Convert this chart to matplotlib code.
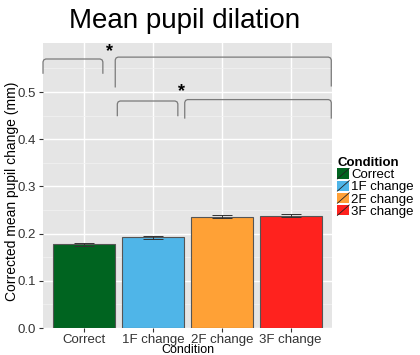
import matplotlib.pyplot as plt
from matplotlib.patches import Rectangle, Patch
from matplotlib.lines import Line2D
from matplotlib.legend_handler import HandlerPatch

plt.rcParams['font.family'] = ['Liberation Sans', 'DejaVu Sans']

# bar data
conditions = ['Correct', '1F change', '2F change', '3F change']
means = [0.177, 0.192, 0.236, 0.238]
errors = [0.004, 0.004, 0.003, 0.003]
colors = ['#006420', '#4FB5E8', '#FFA136', '#FF221E']

# significance brackets: (x start, x end, top, left leg end, right leg end)
brackets = [
    (0.40, 1.27, 0.570, 0.540, 0.540),
    (1.45, 4.59, 0.574, 0.511, 0.513),
    (1.48, 2.36, 0.481, 0.450, 0.450),
    (2.46, 4.59, 0.484, 0.445, 0.445),
]
stars = [(1.36, 0.585), (2.42, 0.500)]


class SlashHandler(HandlerPatch):
    # legend key with the diagonal slash ggplot draws for outlined bars
    def create_artists(self, legend, orig_handle, xdescent, ydescent,
                       width, height, fontsize, trans):
        r = Rectangle((-xdescent, -ydescent), width, height,
                      facecolor=orig_handle.get_facecolor(),
                      edgecolor='none', transform=trans)
        ln = Line2D([-xdescent, -xdescent + width],
                    [-ydescent, -ydescent + height],
                    color='#222222', lw=0.6, transform=trans)
        return [r, ln]


def bracket_path(x0, x1, top, l_end, r_end, rx=0.04, ry=0.006):
    # bracket outline with slightly rounded corners
    xs = [x0, x0, x0 + rx * 0.3, x0 + rx, x1 - rx, x1 - rx * 0.3, x1, x1]
    ys = [l_end, top - ry, top - ry * 0.3, top, top, top - ry * 0.3,
          top - ry, r_end]
    return xs, ys


fig = plt.figure(figsize=(4.2, 3.55), dpi=100)
ax = fig.add_axes([0.1024, 0.076, 0.688, 0.803])
ax.set_facecolor('#E5E5E5')

xs = range(1, len(conditions) + 1)
ax.bar(xs, means, width=0.9, color=colors, edgecolor='#555555', linewidth=0.8,
       zorder=3)
ax.errorbar(xs, means, yerr=errors, fmt='none', ecolor='#333333',
            elinewidth=0.7, capsize=7, capthick=0.7, zorder=4)

for b in brackets:
    bx, by = bracket_path(*b)
    ax.plot(bx, by, color='#7A7A7A', lw=0.9, zorder=5, clip_on=False)
for sx, sy in stars:
    ax.text(sx, sy, '*', ha='center', va='center', fontsize=13,
            fontweight='bold', zorder=6)

ax.set_xlim(0.4, 4.6)
ax.set_ylim(0, 0.604)
ax.set_xticks(list(xs))
ax.set_xticklabels(conditions)
ax.set_yticks([0.0, 0.1, 0.2, 0.3, 0.4, 0.5])
ax.set_yticks([0.05, 0.15, 0.25, 0.35, 0.45, 0.55], minor=True)
ax.grid(True, which='major', color='white', lw=1.0, zorder=0)
ax.grid(True, which='minor', axis='y', color='#F2F2F2', lw=0.5, zorder=0)
ax.set_axisbelow(True)
for s in ax.spines.values():
    s.set_visible(False)
ax.tick_params(axis='both', which='major', length=3, color='#333333',
               labelsize=9.5, labelcolor='#333333', pad=2)
ax.tick_params(axis='x', pad=1)
ax.tick_params(axis='both', which='minor', length=0)

ax.set_ylabel('Corrected mean pupil change (mm)', fontsize=10)
ax.yaxis.set_label_coords(-0.082, 0.48)
ax.set_xlabel('Condition', fontsize=9)
ax.xaxis.set_label_coords(0.5, -0.056)
fig.text(0.44, 0.942, 'Mean pupil dilation', ha='center', va='center',
         fontsize=20)

handles = [Patch(facecolor=c) for c in colors]
leg = fig.legend(handles, conditions, title='Condition',
                 handler_map={Patch: SlashHandler()},
                 loc='upper left', bbox_to_anchor=(0.797, 0.565),
                 frameon=False, fontsize=9.5, title_fontsize=9.5,
                 handlelength=0.9, handleheight=0.85, handletextpad=0.15,
                 labelspacing=-0.05, borderpad=0.2, borderaxespad=0)
leg.get_title().set_fontweight('bold')
leg._legend_box.align = 'left'

fig.savefig('out.png', dpi=100)
